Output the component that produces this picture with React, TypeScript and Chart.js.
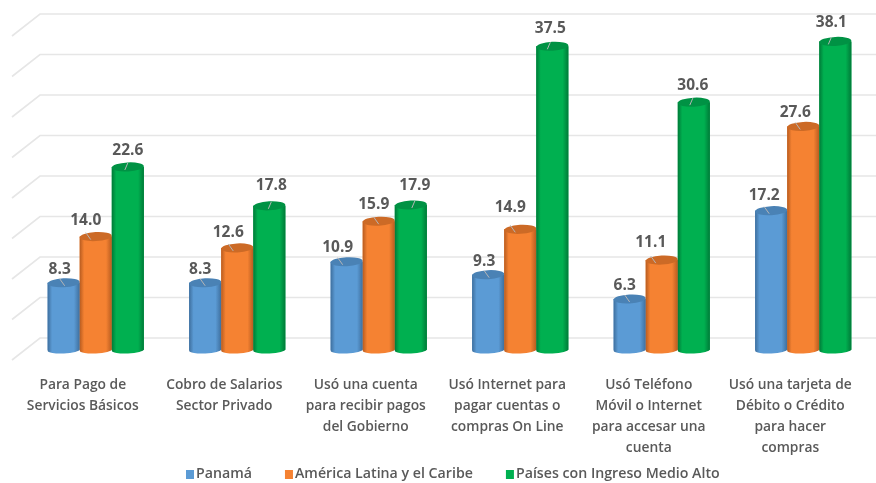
import React, { useEffect, useRef } from "react";
import { Chart, registerables } from "chart.js";

Chart.register(...registerables);

const categories = [
  ["Para Pago de", "Servicios Básicos"],
  ["Cobro de Salarios", "Sector Privado"],
  ["Usó una cuenta", "para recibir pagos", "del Gobierno"],
  ["Usó Internet para", "pagar cuentas o", "compras On Line"],
  ["Usó Teléfono", "Móvil o Internet", "para accesar una", "cuenta"],
  ["Usó una tarjeta de", "Débito o Crédito", "para hacer", "compras"],
];
const panama = [8.3, 8.3, 10.9, 9.3, 6.3, 17.2];
const latam = [14.0, 12.6, 15.9, 14.9, 11.1, 27.6];
const ingresoAlto = [22.6, 17.8, 17.9, 37.5, 30.6, 38.1];
const seriesNames = ["Panamá", "América Latina y el Caribe", "Países con Ingreso Medio Alto"];
const seriesColors = ["#5B9BD5", "#F58232", "#00B050"];
const seriesEdge = ["#3E6F9E", "#B85C20", "#007A38"];
const seriesTop = ["#4A82B5", "#CC6A26", "#009244"];

// Nudges of each value label from the top of its bar
const labelDx = [
  [-4, -5, -9, -4, -5, -7],
  [-10, -9, -5, -10, -11, -8],
  [0, 2, 4, -2, -1, -4],
];
const labelDy = [
  [-13, -13, -14, -13, -13, -15],
  [-16, -15, -17, -22, -18, -14],
  [-16, -20, -19, -18, -17, -19],
];

const TEXT = "#595959";
const FONT = '"Open Sans", "Noto Sans", sans-serif';
const TILT = -0.05;

const cylinderPlugin = {
  id: "cylinders",
  beforeDatasetsDraw(chart: any) {
    const { ctx, scales } = chart;
    ctx.save();
    ctx.strokeStyle = "#E6E6E6";
    ctx.lineWidth = 1.6;
    scales.y.ticks.forEach((t: any) => {
      const y = scales.y.getPixelForValue(t.value) - 12;
      ctx.beginPath();
      ctx.moveTo(12, y + 22);
      ctx.lineTo(40, y);
      ctx.lineTo(chart.width, y);
      ctx.stroke();
    });
    ctx.restore();
  },
  afterDatasetsDraw(chart: any) {
    const { ctx } = chart;
    ctx.save();
    chart.data.datasets.forEach((ds: any, di: number) => {
      const meta = chart.getDatasetMeta(di);
      meta.data.forEach((bar: any) => {
        const rx = bar.width / 2;
        const g = ctx.createLinearGradient(bar.x - rx, 0, bar.x + rx, 0);
        g.addColorStop(0, seriesEdge[di]);
        g.addColorStop(0.14, seriesColors[di]);
        g.addColorStop(0.82, seriesColors[di]);
        g.addColorStop(1, seriesEdge[di]);
        ctx.fillStyle = g;
        ctx.beginPath();
        ctx.moveTo(bar.x - rx, bar.y);
        ctx.lineTo(bar.x - rx, bar.base);
        ctx.ellipse(bar.x, bar.base, rx, 3.5, TILT, Math.PI, 0, true);
        ctx.lineTo(bar.x + rx, bar.y);
        ctx.closePath();
        ctx.fill();
        ctx.fillStyle = seriesTop[di];
        ctx.beginPath();
        ctx.ellipse(bar.x, bar.y, rx, 4.5, TILT, 0, Math.PI * 2);
        ctx.fill();
      });
    });
    chart.data.datasets.forEach((ds: any, di: number) => {
      const meta = chart.getDatasetMeta(di);
      meta.data.forEach((bar: any, i: number) => {
        const tx = bar.x + labelDx[di][i];
        const ex = di === 2 ? tx - 3 : tx + 5;
        const ey = bar.y + 3;
        ctx.strokeStyle = "#B5B5B5";
        ctx.lineWidth = 1;
        ctx.beginPath();
        ctx.moveTo(ex, ey);
        ctx.lineTo(di === 2 ? ex + 3 : ex - 5, ey - 7);
        ctx.stroke();
      });
    });
    chart.data.datasets.forEach((ds: any, di: number) => {
      const meta = chart.getDatasetMeta(di);
      meta.data.forEach((bar: any, i: number) => {
        ctx.fillStyle = TEXT;
        ctx.font = `700 15.5px ${FONT}`;
        ctx.textAlign = "center";
        ctx.textBaseline = "middle";
        ctx.fillText(ds.data[i].toFixed(1), bar.x + labelDx[di][i], bar.y + labelDy[di][i]);
      });
    });
    ctx.restore();
  },
  afterDraw(chart: any) {
    const { ctx } = chart;
    ctx.save();
    ctx.font = `600 14.2px ${FONT}`;
    ctx.textAlign = "left";
    ctx.textBaseline = "middle";
    let x = 186;
    chart.data.datasets.forEach((ds: any, di: number) => {
      ctx.fillStyle = seriesColors[di];
      ctx.fillRect(x, 470, 8, 9);
      ctx.fillStyle = TEXT;
      ctx.fillText(ds.label, x + 10, 474);
      x += 10 + ctx.measureText(ds.label).width + 33;
    });
    ctx.restore();
  },
};

export default function App() {
  const ref = useRef<HTMLCanvasElement>(null);
  useEffect(() => {
    document.body.style.margin = "0";
    const data = [panama, latam, ingresoAlto];
    const chart = new Chart(ref.current!, {
      type: "bar",
      data: {
        labels: categories as any,
        datasets: seriesNames.map((name, i) => ({
          label: name,
          data: data[i],
          backgroundColor: seriesColors[i],
          categoryPercentage: 0.68,
          barPercentage: 1,
        })),
      },
      options: {
        responsive: false,
        animation: false,
        layout: { padding: { top: 26, left: 25, right: 2, bottom: 0 } },
        scales: {
          x: {
            grid: { display: false },
            border: { display: false },
            afterFit: (s: any) => {
              s.height = 133;
              s.paddingLeft = 0;
              s.paddingRight = 0;
            },
            ticks: {
              color: TEXT,
              font: { family: FONT, size: 13.8, weight: 600, lineHeight: 1.54 },
              padding: 16,
              labelOffset: -13,
              maxRotation: 0,
              autoSkip: false,
            },
          },
          y: {
            display: true,
            min: 0,
            max: 40,
            ticks: { stepSize: 5, display: false },
            grid: { display: false },
            border: { display: false },
            afterFit: (s: any) => { s.width = 0; },
          },
        },
        plugins: {
          tooltip: { enabled: false },
          legend: { display: false },
        },
      },
      plugins: [cylinderPlugin],
    } as any);
    return () => chart.destroy();
  }, []);
  return <canvas ref={ref} width={876} height={483} style={{ display: "block" }} />;
}
